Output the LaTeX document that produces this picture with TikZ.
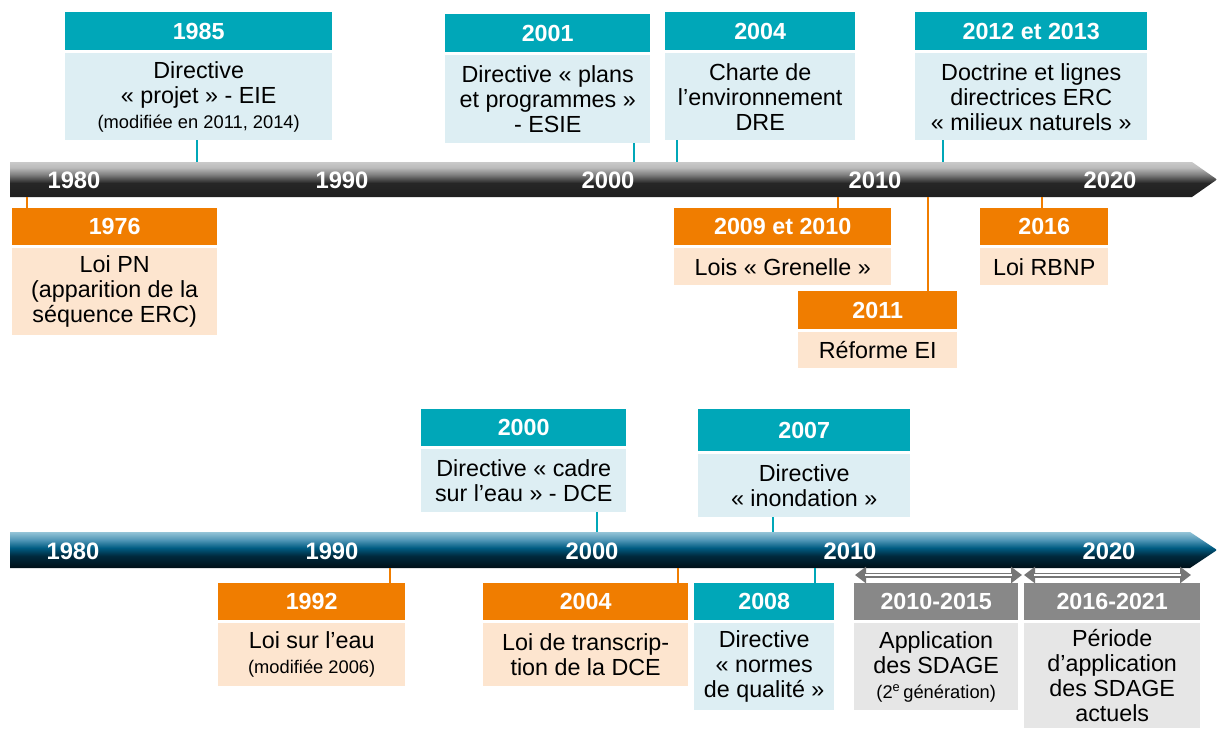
\documentclass[tikz,border=0pt]{standalone}
\usepackage{fontspec}
\setmainfont{Liberation Sans}
\usetikzlibrary{arrows.meta}
\definecolor{tealh}{RGB}{0,167,184}
\definecolor{tealb}{RGB}{221,238,243}
\definecolor{orah}{RGB}{240,125,0}
\definecolor{orab}{RGB}{253,229,207}
\definecolor{grah}{RGB}{136,136,136}
\definecolor{grab}{RGB}{230,230,230}
\definecolor{arrg}{RGB}{118,118,118}
\pgfdeclareverticalshading{grayshade}{100bp}{color(0bp)=(black!88); color(25bp)=(black!88); color(45bp)=(black!85); color(57bp)=(black!50); color(67bp)=(black!27); color(75bp)=(black!21); color(100bp)=(black!21)}
\definecolor{bl1}{RGB}{0,16,24}
\definecolor{bl2}{RGB}{0,42,62}
\definecolor{bl3}{RGB}{0,92,130}
\definecolor{bl4}{RGB}{80,150,182}
\definecolor{bl5}{RGB}{148,196,215}
\pgfdeclareverticalshading{blueshade}{100bp}{color(0bp)=(bl1); color(25bp)=(bl1); color(42bp)=(bl2); color(53bp)=(bl3); color(64bp)=(bl4); color(75bp)=(bl5); color(100bp)=(bl5)}
\newcommand\hdrfont{\bfseries\fontsize{23.3}{26}\selectfont}
\newcommand\bodyfont{\fontsize{23.3}{25}\selectfont}
\newcommand\smallfnt{\fontsize{18.3}{20}\selectfont}
\tikzset{
  evbox/.style={rectangle, inner sep=0pt, anchor=north west, align=center},
  hdr/.style={evbox, font=\hdrfont, text=white},
  bodyb/.style={evbox, font=\bodyfont, text=black},
  th/.style={hdr, fill=tealh}, tb/.style={bodyb, fill=tealb},
  oh/.style={hdr, fill=orah}, ob/.style={bodyb, fill=orab},
  gh/.style={hdr, fill=grah}, gb/.style={bodyb, fill=grab},
  tconn/.style={draw=tealh, line width=2.5pt},
  oconn/.style={draw=orah, line width=2.5pt},
  yearlab/.style={font=\bfseries\fontsize{23.8}{26}\selectfont, text=white, inner sep=0pt},
  period/.style={draw=arrg, line width=5pt,
     {Triangle[length=11pt,width=16pt]}-{Triangle[length=11pt,width=16pt]}},
  periodin/.style={draw=white, line width=1.8pt, shorten <=10pt, shorten >=10pt}
}
\begin{document}
\begin{tikzpicture}[x=1pt,y=-1pt]
\useasboundingbox (0,0) rectangle (1217,728);
\fill[white] (0,0) rectangle (1217,728);
% ---------- top timeline
\shade[shading=grayshade] (10,162) -- (1192,162) -- (1217,179.5) -- (1192,197) -- (10,197) -- cycle;
\node[yearlab] (y1980a) at (74,180) {1980};
\node[yearlab] (y1990a) at (342,180) {1990};
\node[yearlab] (y2000a) at (608,180) {2000};
\node[yearlab] (y2010a) at (875,180) {2010};
\node[yearlab] (y2020a) at (1110,180) {2020};
\coordinate (k1985) at (197,162);
\coordinate (k2001) at (634,162);
\coordinate (k2004) at (677,162);
\coordinate (k2012) at (943,162);
\coordinate (k1976) at (27,197);
\coordinate (k2009) at (838,197);
\coordinate (k2011) at (928,197);
\coordinate (k2016) at (1042,197);
% top teal boxes
\node[th, minimum width=267pt, minimum height=38pt] (h1985) at (65,12) {1985};
\node[tb, minimum width=267pt, minimum height=87pt] (b1985) at (65,53) {Directive\\« projet » - EIE\\{\smallfnt (modifiée en 2011, 2014)}};
\node[th, minimum width=205pt, minimum height=38pt] (h2001) at (445,14) {2001};
\node[tb, minimum width=205pt, minimum height=88pt] (b2001) at (445,55) {Directive « plans\\et programmes »\\- ESIE};
\node[th, minimum width=190pt, minimum height=38pt] (h2004) at (665,12) {2004};
\node[tb, minimum width=190pt, minimum height=87pt] (b2004) at (665,53) {Charte de\\l’environnement\\DRE};
\node[th, minimum width=232pt, minimum height=38pt] (h2012) at (915,12) {2012 et 2013};
\node[tb, minimum width=232pt, minimum height=87pt] (b2012) at (915,53) {Doctrine et lignes\\directrices ERC\\« milieux naturels »};
\draw[tconn] (b1985.south -| k1985) -- (k1985);
\draw[tconn] (b2001.south -| k2001) -- (k2001);
\draw[tconn] (b2004.south -| k2004) -- (k2004);
\draw[tconn] (b2012.south -| k2012) -- (k2012);
% orange boxes
\node[oh, minimum width=205pt, minimum height=37pt] (h1976) at (12,208) {1976};
\node[ob, minimum width=205pt, minimum height=87pt] (b1976) at (12,248) {Loi PN\\(apparition de la\\séquence ERC)};
\node[oh, minimum width=217pt, minimum height=37pt] (h2009) at (674,208) {2009 et 2010};
\node[ob, minimum width=217pt, minimum height=37pt] (b2009) at (674,248) {Lois « Grenelle »};
\node[oh, minimum width=159pt, minimum height=38pt] (h2011) at (798,291) {2011};
\node[ob, minimum width=159pt, minimum height=36pt] (b2011) at (798,332) {Réforme EI};
\node[oh, minimum width=128pt, minimum height=37pt] (h2016) at (980,208) {2016};
\node[ob, minimum width=128pt, minimum height=37pt] (b2016) at (980,248) {Loi RBNP};
\draw[oconn] (k1976) -- (h1976.north -| k1976);
\draw[oconn] (k2009) -- (h2009.north -| k2009);
\draw[oconn] (k2011) -- (h2011.north -| k2011);
\draw[oconn] (k2016) -- (h2016.north -| k2016);
% ---------- bottom timeline
\shade[shading=blueshade] (10,532) -- (1190,532) -- (1217,550) -- (1190,568) -- (10,568) -- cycle;
\node[yearlab] (y1980b) at (73,551) {1980};
\node[yearlab] (y1990b) at (332,551) {1990};
\node[yearlab] (y2000b) at (592,551) {2000};
\node[yearlab] (y2010b) at (850,551) {2010};
\node[yearlab] (y2020b) at (1109,551) {2020};
\coordinate (m2000) at (597,532);
\coordinate (m2007) at (773,532);
\coordinate (m1992) at (390,568);
\coordinate (m2004) at (678,568);
\coordinate (m2008) at (815,568);
\node[th, minimum width=205pt, minimum height=37pt] (h2000) at (421,409) {2000};
\node[tb, minimum width=205pt, minimum height=63pt] (b2000) at (421,449) {Directive « cadre\\sur l’eau » - DCE};
\node[th, minimum width=212pt, minimum height=42pt] (h2007) at (698,409) {2007};
\node[tb, minimum width=212pt, minimum height=63pt] (b2007) at (698,454) {Directive\\« inondation »};
\draw[tconn] (b2000.south -| m2000) -- (m2000);
\draw[tconn] (b2007.south -| m2007) -- (m2007);
\node[oh, minimum width=187pt, minimum height=37pt] (h1992) at (218,583) {1992};
\node[ob, minimum width=187pt, minimum height=63pt] (b1992) at (218,623) {Loi sur l’eau\\{\smallfnt (modifiée 2006)}};
\node[oh, minimum width=205pt, minimum height=37pt] (h2004b) at (483,583) {2004};
\node[ob, minimum width=205pt, minimum height=63pt] (b2004b) at (483,623) {Loi de transcrip-\\tion de la DCE};
\node[th, minimum width=140pt, minimum height=37pt] (h2008) at (694,583) {2008};
\node[tb, minimum width=140pt, minimum height=87pt] (b2008) at (694,623) {Directive\\« normes\\de qualité »};
\node[gh, minimum width=164pt, minimum height=37pt] (h2010) at (854,583) {2010-2015};
\node[gb, minimum width=164pt, minimum height=87pt] (b2010) at (854,623) {Application\\des SDAGE\\{\smallfnt (2\textsuperscript{e}\,génération)}};
\node[gh, minimum width=176pt, minimum height=37pt] (h2016b) at (1024,583) {2016-2021};
\node[gb, minimum width=176pt, minimum height=105pt] (b2016b) at (1024,623) {Période\\d’application\\des SDAGE\\actuels};
\draw[oconn] (m1992) -- (h1992.north -| m1992);
\draw[oconn] (m2004) -- (h2004b.north -| m2004);
\draw[tconn] (m2008) -- (h2008.north -| m2008);
% period arrows
\coordinate (p1s) at (855,575);
\coordinate (p1e) at (1022,575);
\coordinate (p2s) at (1024,575);
\coordinate (p2e) at (1191,575);
\draw[period] (p1s) -- (p1e);
\draw[periodin] (p1s) -- (p1e);
\draw[period] (p2s) -- (p2e);
\draw[periodin] (p2s) -- (p2e);
\end{tikzpicture}
\end{document}
